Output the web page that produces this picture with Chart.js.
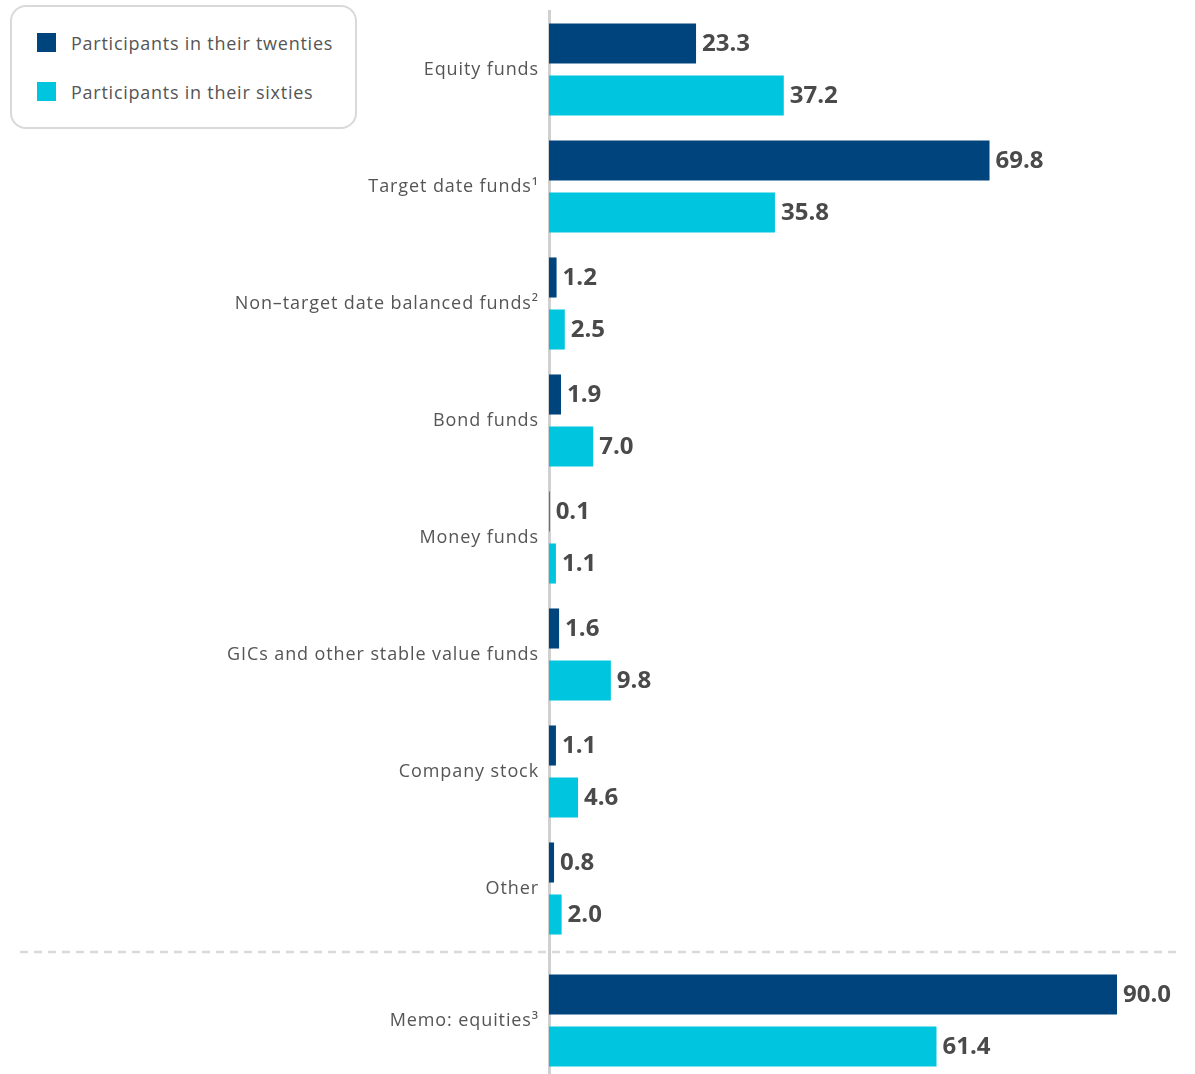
<!DOCTYPE html>
<html>
<head>
<meta charset="utf-8">
<script src="https://cdn.jsdelivr.net/npm/chart.js@4/dist/chart.umd.min.js"></script>
<style>
  html, body { margin: 0; padding: 0; background: #fff; }
  body { width: 1195px; height: 1074px; position: relative; overflow: hidden; font-family: 'Open Sans', sans-serif; }
  .chartBox { position: absolute; left: 0; width: 1195px; }
  #topBox { top: 0; height: 947px; }
  #memoBox { top: 947px; height: 132px; }
  #legend {
    position: absolute; left: 10px; top: 5px; width: 347px; height: 124px;
    box-sizing: border-box; border: 2px solid #d9d9d9; border-radius: 16px;
    padding: 26px 0 0 25px; z-index: 2; background: #fff;
  }
  .legItem { display: flex; align-items: center; height: 19px; margin-bottom: 30px; color: #555; font-size: 18px; letter-spacing: 0.75px; }
  .legSwatch { width: 19px; height: 19px; margin-right: 15px; flex: none; }
</style>
</head>
<body>
<div id="legend"></div>
<div class="chartBox" id="topBox"><canvas id="topChart"></canvas></div>
<div class="chartBox" id="memoBox"><canvas id="memoChart"></canvas></div>
<script>
  // categories + values (percent of account assets)
  const categories = [
    'Equity funds',
    'Target date funds¹',
    'Non\u2013target date balanced funds²',
    'Bond funds',
    'Money funds',
    'GICs and other stable value funds',
    'Company stock',
    'Other',
  ];
  const twenties = [23.3, 69.8, 1.2, 1.9, 0.1, 1.6, 1.1, 0.8];
  const sixties = [37.2, 35.8, 2.5, 7.0, 1.1, 9.8, 4.6, 2.0];

  const memoCategories = ['Memo: equities³'];
  const memoTwenties = [90.0];
  const memoSixties = [61.4];

  const seriesNames = ['Participants in their twenties', 'Participants in their sixties'];
  const NAVY = '#00447e';
  const CYAN = '#00c5de';
  const X_MAX = 90;
  const AXIS_W = 549;

  // wider tracking for tick labels (reference font is wider than Open Sans)
  const tracking = {
    id: 'tracking',
    beforeDraw(chart) { chart.ctx.letterSpacing = '0.9px'; },
    afterDraw(chart) { chart.ctx.letterSpacing = '0px'; },
  };

  // value labels right of each bar
  const valueLabels = {
    id: 'valueLabels',
    afterDatasetsDraw(chart) {
      const ctx = chart.ctx;
      ctx.save();
      ctx.letterSpacing = '0px';
      ctx.font = 'bold 24px "Open Sans", sans-serif';
      ctx.fillStyle = '#4a4a4a';
      ctx.textAlign = 'left';
      ctx.textBaseline = 'middle';
      chart.data.datasets.forEach((ds, i) => {
        chart.getDatasetMeta(i).data.forEach((bar, j) => {
          ctx.fillText(Number(ds.data[j]).toFixed(1), bar.x + 6, bar.y + 1);
        });
      });
      ctx.restore();
    },
  };

  // dashed separator + axis line continuing up through it
  const memoDecor = {
    id: 'memoDecor',
    beforeDatasetsDraw(chart) {
      const ctx = chart.ctx;
      const left = Math.round(chart.chartArea.left - 1.5) + 1.5;
      ctx.save();
      ctx.strokeStyle = '#d9d9d9';
      ctx.lineWidth = 2.5;
      ctx.setLineDash([8, 6]);
      ctx.beginPath();
      ctx.moveTo(20, 5);
      ctx.lineTo(1180, 5);
      ctx.stroke();
      ctx.setLineDash([]);
      ctx.strokeStyle = '#d0d0d0';
      ctx.lineWidth = 3;
      ctx.beginPath();
      ctx.moveTo(left, 0);
      ctx.lineTo(left, chart.chartArea.top);
      ctx.stroke();
      ctx.restore();
    },
  };

  function makeOptions(padTop) {
    return {
      indexAxis: 'y',
      responsive: true,
      maintainAspectRatio: false,
      animation: false,
      layout: { padding: { top: padTop, bottom: 0, left: 0, right: 1195 - AXIS_W - 568 } },
      plugins: { legend: { display: false }, tooltip: { enabled: false } },
      scales: {
        x: { display: false, min: 0, max: X_MAX },
        y: {
          grid: { display: false, drawTicks: false },
          border: { display: true, color: '#d0d0d0', width: 3 },
          ticks: { color: '#555', font: { family: '"Open Sans", sans-serif', size: 18 }, padding: 10 },
          afterFit(scale) {
            scale.width = AXIS_W;
            scale.paddingTop = 0;
            scale.paddingBottom = 0;
          },
        },
      },
    };
  }

  function makeDatasets(a, b) {
    return [
      { label: seriesNames[0], data: a, backgroundColor: NAVY, barPercentage: 0.77, categoryPercentage: 0.889 },
      { label: seriesNames[1], data: b, backgroundColor: CYAN, barPercentage: 0.77, categoryPercentage: 0.889 },
    ];
  }

  const topChart = new Chart(document.getElementById('topChart'), {
    type: 'bar',
    data: { labels: categories, datasets: makeDatasets(twenties, sixties) },
    options: makeOptions(11),
    plugins: [tracking, valueLabels],
  });

  new Chart(document.getElementById('memoChart'), {
    type: 'bar',
    data: { labels: memoCategories, datasets: makeDatasets(memoTwenties, memoSixties) },
    options: makeOptions(15),
    plugins: [tracking, valueLabels, memoDecor],
  });

  // html legend from the chart's datasets
  const legendEl = document.getElementById('legend');
  topChart.data.datasets.forEach((ds) => {
    const item = document.createElement('div');
    item.className = 'legItem';
    const sw = document.createElement('span');
    sw.className = 'legSwatch';
    sw.style.background = ds.backgroundColor;
    const txt = document.createElement('span');
    txt.textContent = ds.label;
    item.appendChild(sw);
    item.appendChild(txt);
    legendEl.appendChild(item);
  });
</script>
</body>
</html>
